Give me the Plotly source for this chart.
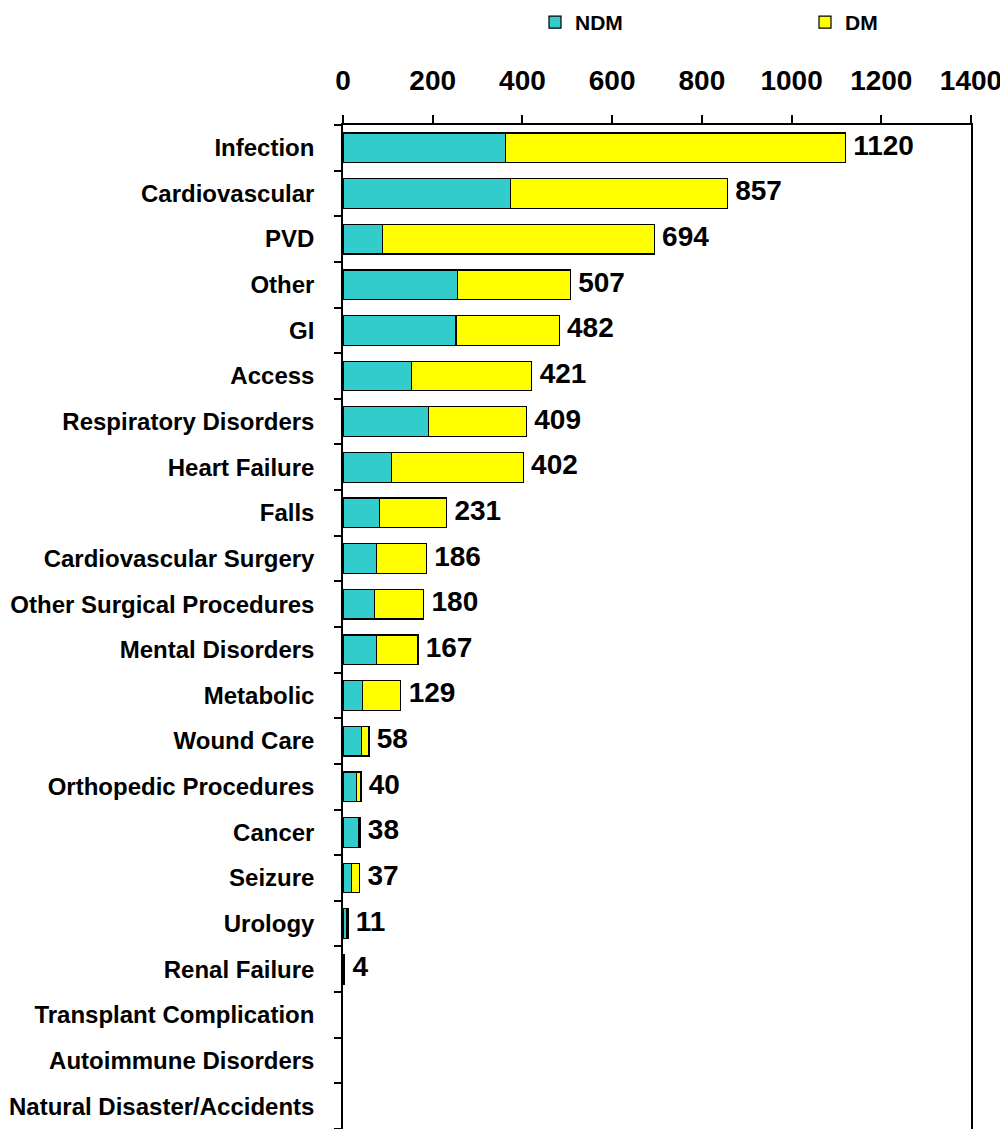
import plotly.graph_objects as go

# categories top to bottom
categories = [
    'Infection', 'Cardiovascular', 'PVD', 'Other', 'GI', 'Access',
    'Respiratory Disorders', 'Heart Failure', 'Falls', 'Cardiovascular Surgery',
    'Other Surgical Procedures', 'Mental Disorders', 'Metabolic', 'Wound Care',
    'Orthopedic Procedures', 'Cancer', 'Seizure', 'Urology', 'Renal Failure',
    'Transplant Complication', 'Autoimmune Disorders', 'Natural Disaster/Accidents'
]
ndm = [363, 374, 88, 255, 252, 153, 190, 108, 82, 74, 71, 74, 44, 41, 30, 35, 19, 8, 2, 0, 0, 0]
dm = [757, 483, 606, 252, 230, 268, 219, 294, 149, 112, 109, 93, 85, 17, 10, 3, 18, 3, 2, 0, 0, 0]
x_ticks = [0, 200, 400, 600, 800, 1000, 1200, 1400]

totals = [a + b for a, b in zip(ndm, dm)]
total_labels = [str(t) if t > 0 else '' for t in totals]

FONT = 'Arial, Liberation Sans, sans-serif'


def outline(values):
    # no outline for empty bars, otherwise a stray line shows at zero
    return [1.2 if v > 0 else 0 for v in values]


fig = go.Figure()

fig.add_trace(go.Bar(
    y=categories, x=ndm, name='<b>NDM</b>', orientation='h',
    marker=dict(color='#33CCCC', line=dict(color='#000000', width=outline(ndm))),
    legend='legend', hoverinfo='x+y'
))
fig.add_trace(go.Bar(
    y=categories, x=dm, name='<b>DM</b>', orientation='h',
    marker=dict(color='#FFFF00', line=dict(color='#000000', width=outline(dm))),
    legend='legend2', hoverinfo='x+y'
))
# total labels at the end of each bar
fig.add_trace(go.Scatter(
    y=categories, x=totals, mode='text', text=total_labels,
    textposition='middle right', showlegend=False,
    textfont=dict(family=FONT, size=28, color='#000000'),
    texttemplate='\u00a0<b>%{text}</b>', hoverinfo='skip', cliponaxis=False
))

legend_style = dict(
    orientation='h', xref='container', yref='container',
    y=0.987, yanchor='middle', xanchor='left',
    font=dict(family=FONT, size=21, color='#000000'),
    bgcolor='rgba(0,0,0,0)'
)

# the page body adds an 8px offset, so the figure is a bit smaller than the window
fig.update_layout(
    width=1000, height=1121,
    barmode='stack', bargap=0.35,
    plot_bgcolor='white', paper_bgcolor='white',
    margin=dict(l=335, r=37, t=117, b=0, autoexpand=False),
    font=dict(family=FONT, color='#000000'),
    legend=dict(x=0.527, **legend_style),
    legend2=dict(x=0.797, **legend_style),
    xaxis=dict(
        side='top', range=[0, 1400], tickvals=x_ticks,
        ticktext=[f'<b>{v}</b>' for v in x_ticks],
        tickfont=dict(family=FONT, size=28, color='#000000'),
        ticklabeloverflow='allow',
        showline=True, linecolor='#000000', linewidth=1.5,
        ticks='outside', ticklen=8, tickcolor='#000000', tickwidth=1.5,
        ticklabelstandoff=14,
        showgrid=False, zeroline=False, fixedrange=True
    ),
    yaxis=dict(
        categoryorder='array', categoryarray=categories,
        range=[len(categories) - 0.5, -0.5],
        tickvals=categories,
        ticktext=[f'<b>{c}</b>' for c in categories],
        tickfont=dict(family=FONT, size=24, color='#000000'),
        showline=True, mirror=True, linecolor='#000000', linewidth=1.5,
        ticks='outside', tickson='boundaries', ticklen=7,
        tickcolor='#000000', tickwidth=1.5,
        ticklabelstandoff=22,
        showgrid=False, zeroline=False, fixedrange=True
    )
)

fig.write_html('out.html')
